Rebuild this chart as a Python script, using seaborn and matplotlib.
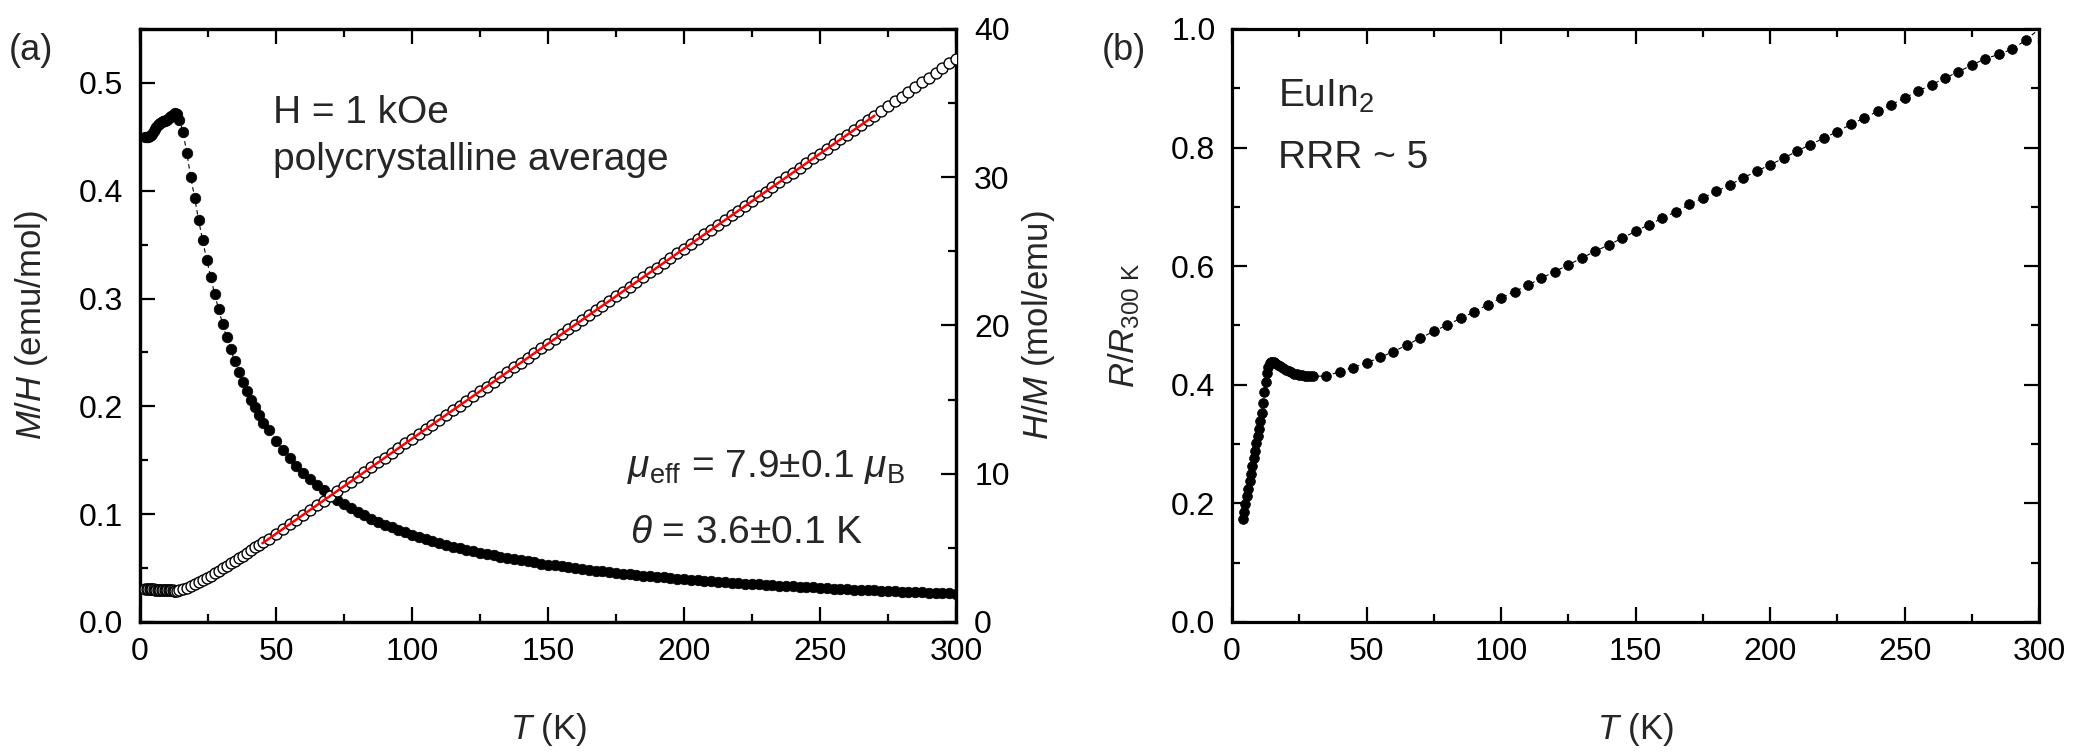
import matplotlib
matplotlib.use('Agg')
import matplotlib.pyplot as plt
import seaborn as sns
from matplotlib.ticker import MultipleLocator, FormatStrFormatter

# ---- panel (a): M/H (filled) and H/M (open) vs T ----
T_a = [2.0, 2.5, 3.0, 3.5, 4.0, 4.5, 5.0, 5.5, 6.0, 6.5, 7.0, 7.5, 8.0, 8.5,
       9.0, 9.5, 10.0, 10.5, 11.0, 11.5, 12.0, 12.5, 13.0, 13.5,
       14.5, 15.8, 17.2, 18.6, 20.1, 21.5, 23.0, 24.5, 26.0, 27.4, 28.9, 30.4,
       31.8, 33.3, 34.8, 36.3, 37.8, 39.3, 40.8, 42.3, 43.8, 45.3,
       47.5, 50, 52.5, 55, 57.5, 60, 62.5, 65, 67.5, 70, 72.5, 75, 77.5, 80,
       82.5, 85, 87.5, 90, 92.5, 95, 97.5, 100, 102.5, 105, 107.5, 110, 112.5,
       115, 117.5, 120, 122.5, 125, 127.5, 130, 132.5, 135, 137.5, 140, 142.5,
       145, 147.5, 150, 152.5, 155, 157.5, 160, 162.5, 165, 167.5, 170, 172.5,
       175, 177.5, 180, 182.5, 185, 187.5, 190, 192.5, 195, 197.5, 200, 202.5,
       205, 207.5, 210, 212.5, 215, 217.5, 220, 222.5, 225, 227.5, 230, 232.5,
       235, 237.5, 240, 242.5, 245, 247.5, 250, 252.5, 255, 257.5, 260, 262.5,
       265, 267.5, 270, 272.5, 275, 277.5, 280, 282.5, 285, 287.5, 290, 292.5,
       295, 297.5, 300]

MH = [0.450, 0.450, 0.450, 0.451, 0.452, 0.453, 0.455, 0.457, 0.459, 0.461,
      0.462, 0.463, 0.464, 0.465, 0.465, 0.466, 0.466, 0.467, 0.468, 0.469,
      0.470, 0.471, 0.472, 0.471,
      0.466, 0.454, 0.435, 0.413, 0.393, 0.373, 0.354, 0.336, 0.320, 0.304,
      0.290, 0.276, 0.264, 0.253, 0.242, 0.232, 0.223, 0.214, 0.206, 0.199,
      0.192, 0.185,
      0.1777, 0.1681, 0.1595, 0.1518, 0.1447, 0.1383, 0.1324, 0.1270, 0.1221,
      0.1175, 0.1132, 0.1092, 0.1055, 0.1021, 0.0989, 0.0958, 0.0930, 0.0903,
      0.0877, 0.0853, 0.0831, 0.0809, 0.0789, 0.0769, 0.0751, 0.0733, 0.0716,
      0.0700, 0.0685, 0.0670, 0.0656, 0.0643, 0.0630, 0.0617, 0.0605, 0.0594,
      0.0583, 0.0572, 0.0562, 0.0552, 0.0542, 0.0533, 0.0524, 0.0515, 0.0507,
      0.0499, 0.0491, 0.0483, 0.0476, 0.0469, 0.0462, 0.0455, 0.0449, 0.0442,
      0.0436, 0.0430, 0.0424, 0.0418, 0.0413, 0.0408, 0.0402, 0.0397, 0.0392,
      0.0387, 0.0383, 0.0378, 0.0373, 0.0369, 0.0365, 0.0360, 0.0356, 0.0352,
      0.0348, 0.0345, 0.0341, 0.0337, 0.0333, 0.0330, 0.0327, 0.0323, 0.0320,
      0.0317, 0.0313, 0.0310, 0.0307, 0.0304, 0.0301, 0.0298, 0.0296, 0.0293,
      0.0290, 0.0287, 0.0285, 0.0282, 0.0280, 0.0277, 0.0275, 0.0272, 0.0270,
      0.0268, 0.0265, 0.0263]

HM = [2.22, 2.22, 2.22, 2.22, 2.21, 2.21, 2.20, 2.19, 2.18, 2.17, 2.16, 2.16,
      2.16, 2.15, 2.15, 2.15, 2.15, 2.14, 2.14, 2.13, 2.13, 2.12, 2.12, 2.12,
      2.15, 2.20, 2.30, 2.42, 2.54, 2.68, 2.82, 2.98, 3.13, 3.29, 3.45, 3.62,
      3.79, 3.95, 4.13, 4.31, 4.48, 4.67, 4.85, 5.03, 5.21, 5.41,
      5.63, 5.95, 6.27, 6.59, 6.91, 7.23, 7.55, 7.87, 8.19, 8.51, 8.83, 9.15,
      9.47, 9.79, 10.12, 10.44, 10.76, 11.08, 11.40, 11.72, 12.04, 12.36,
      12.68, 13.00, 13.32, 13.64, 13.96, 14.28, 14.60, 14.92, 15.24, 15.56,
      15.88, 16.21, 16.53, 16.85, 17.17, 17.49, 17.81, 18.13, 18.45, 18.77,
      19.09, 19.41, 19.73, 20.05, 20.37, 20.69, 21.01, 21.33, 21.65, 21.97,
      22.29, 22.62, 22.94, 23.26, 23.58, 23.90, 24.22, 24.54, 24.86, 25.18,
      25.50, 25.82, 26.14, 26.46, 26.78, 27.10, 27.42, 27.74, 28.06, 28.38,
      28.71, 29.03, 29.35, 29.67, 29.99, 30.31, 30.63, 30.95, 31.27, 31.59,
      31.91, 32.23, 32.55, 32.87, 33.19, 33.51, 33.83, 34.15, 34.47, 34.79,
      35.12, 35.44, 35.76, 36.08, 36.40, 36.72, 37.04, 37.36, 37.68, 38.00]

# Curie-Weiss fit line (end points)
fit_T = [45, 270]
fit_HM = [5.31, 34.15]

# ---- panel (b): normalised resistance ----
T_b = [4.0, 4.5, 5.0, 5.5, 6.0, 6.5, 7.0, 7.5, 8.0, 8.5, 9.0, 9.5, 10.0, 10.5,
       11.0, 11.5, 12.0, 12.5, 13.0, 13.5, 14.0, 14.5, 15.0, 15.5, 16, 17, 18,
       19, 20, 21, 22, 23, 24, 25, 26, 27, 28, 29, 30,
       35, 40, 45, 50, 55, 60, 65, 70, 75, 80, 85, 90, 95, 100, 105, 110, 115,
       120, 125, 130, 135, 140, 145, 150, 155, 160, 165, 170, 175, 180, 185,
       190, 195, 200, 205, 210, 215, 220, 225, 230, 235, 240, 245, 250, 255,
       260, 265, 270, 275, 280, 285, 290, 295, 300]

R_b = [0.174, 0.186, 0.199, 0.212, 0.224, 0.237, 0.250, 0.263, 0.276, 0.288,
       0.301, 0.314, 0.326, 0.339, 0.352, 0.369, 0.387, 0.405, 0.420, 0.430,
       0.436, 0.439, 0.439, 0.438, 0.437, 0.434, 0.431, 0.428, 0.425, 0.423,
       0.421, 0.419, 0.418, 0.417, 0.416, 0.415, 0.415, 0.414, 0.414,
       0.415, 0.422, 0.429, 0.437, 0.446, 0.456, 0.467, 0.479, 0.490, 0.501,
       0.512, 0.523, 0.535, 0.546, 0.557, 0.568, 0.580, 0.591, 0.602, 0.614,
       0.625, 0.636, 0.647, 0.659, 0.670, 0.681, 0.692, 0.704, 0.715, 0.726,
       0.737, 0.749, 0.760, 0.771, 0.782, 0.794, 0.805, 0.816, 0.827, 0.839,
       0.850, 0.861, 0.872, 0.884, 0.895, 0.906, 0.917, 0.928, 0.939, 0.950,
       0.957, 0.966, 0.981, 1.000]

sns.set_style('ticks')
plt.rcParams['font.family'] = ['Liberation Sans', 'DejaVu Sans']
plt.rcParams['mathtext.fontset'] = 'custom'
plt.rcParams['mathtext.rm'] = 'Liberation Sans'
plt.rcParams['mathtext.it'] = 'Liberation Sans:italic'
plt.rcParams['mathtext.bf'] = 'Liberation Sans:bold'

TICK_FS = 23
LABEL_FS = 25
TEXT_FS = 28

fig = plt.figure(figsize=(20.78, 7.52), dpi=100)
ax1 = fig.add_axes([0.0674, 0.1729, 0.3927, 0.7886])
ax2 = ax1.twinx()
ax3 = fig.add_axes([0.5929, 0.1729, 0.3884, 0.7886])


def style_ticks(ax, axis, **kw):
    ax.tick_params(axis=axis, which='both', direction='in', width=1.6,
                   labelsize=TICK_FS, colors='black', **kw)
    ax.tick_params(axis=axis, which='major', length=11)
    ax.tick_params(axis=axis, which='minor', length=6)


for ax in (ax1, ax2, ax3):
    for sp in ax.spines.values():
        sp.set_linewidth(2.3)
        sp.set_color('black')
        sp.set_visible(True)

# panel (a)
sns.lineplot(x=T_a, y=MH, ax=ax1, color='black', lw=0.8,
             linestyle=(0, (4, 3)), sort=False, estimator=None)
sns.scatterplot(x=T_a, y=MH, ax=ax1, color='black', edgecolor='black',
                s=58, linewidth=0.5, zorder=3)
sns.scatterplot(x=T_a, y=HM, ax=ax2, color='white', edgecolor='black',
                s=62, linewidth=1.0, zorder=3)
sns.lineplot(x=fit_T, y=fit_HM, ax=ax2, color='red', lw=1.8, zorder=4)

ax1.set_xlim(0, 300)
ax1.set_ylim(0, 0.55)
ax2.set_ylim(0, 40)
ax1.xaxis.set_major_locator(MultipleLocator(50))
ax1.xaxis.set_minor_locator(MultipleLocator(25))
ax1.yaxis.set_major_locator(MultipleLocator(0.1))
ax1.yaxis.set_minor_locator(MultipleLocator(0.05))
ax1.yaxis.set_major_formatter(FormatStrFormatter('%.1f'))
ax2.yaxis.set_major_locator(MultipleLocator(10))
ax2.yaxis.set_minor_locator(MultipleLocator(5))
style_ticks(ax1, 'x', top=True, bottom=True, pad=11)
style_ticks(ax1, 'y', left=True, right=False, pad=12)
style_ticks(ax2, 'y', right=True, left=False, pad=13)

ax1.set_xlabel('$T$ (K)', fontsize=LABEL_FS)
ax1.set_ylabel('$M$/$H$ (emu/mol)', fontsize=LABEL_FS)
ax2.set_ylabel('$H$/$M$ (mol/emu)', fontsize=LABEL_FS)
ax1.xaxis.set_label_coords(0.5, -0.15)
ax1.yaxis.set_label_coords(-0.110, 0.5)
ax2.yaxis.set_label_coords(1.078, 0.5)

ax1.text(0.163, 0.8415, 'H = 1 kOe', transform=ax1.transAxes,
         fontsize=TEXT_FS, va='baseline')
ax1.text(0.163, 0.762, 'polycrystalline average', transform=ax1.transAxes,
         fontsize=TEXT_FS, va='baseline')
ax1.text(0.597, 0.245, r'$\mu_{\rm eff}$ = 7.9$\pm$0.1 $\mu_{\rm B}$',
         transform=ax1.transAxes, fontsize=TEXT_FS, va='baseline')
ax1.text(0.600, 0.133, r'$\theta$ = 3.6$\pm$0.1 K',
         transform=ax1.transAxes, fontsize=TEXT_FS, va='baseline')

# panel (b)
sns.lineplot(x=T_b, y=R_b, ax=ax3, color='black', lw=0.8,
             linestyle=(0, (4, 3)), sort=False, estimator=None)
sns.scatterplot(x=T_b[:-1], y=R_b[:-1], ax=ax3, color='black',
                edgecolor='black', s=50, linewidth=0.5, zorder=3)

ax3.set_xlim(0, 300)
ax3.set_ylim(0, 1.0)
ax3.xaxis.set_major_locator(MultipleLocator(50))
ax3.xaxis.set_minor_locator(MultipleLocator(25))
ax3.yaxis.set_major_locator(MultipleLocator(0.2))
ax3.yaxis.set_minor_locator(MultipleLocator(0.1))
ax3.yaxis.set_major_formatter(FormatStrFormatter('%.1f'))
style_ticks(ax3, 'x', top=True, bottom=True, pad=11)
style_ticks(ax3, 'y', left=True, right=True, pad=12)

ax3.set_xlabel('$T$ (K)', fontsize=LABEL_FS)
ax3.set_ylabel(r'$R$/$R_{\rm 300\ K}$', fontsize=LABEL_FS)
ax3.xaxis.set_label_coords(0.5, -0.15)
ax3.yaxis.set_label_coords(-0.112, 0.5)

ax3.text(0.057, 0.8685, r'EuIn$_2$', transform=ax3.transAxes,
         fontsize=TEXT_FS, va='baseline')
ax3.text(0.057, 0.7656, 'RRR ~ 5', transform=ax3.transAxes,
         fontsize=TEXT_FS, va='baseline')

fig.text(0.004, 0.9335, '(a)', fontsize=26, va='center', ha='left')
fig.text(0.530, 0.9335, '(b)', fontsize=26, va='center', ha='left')

fig.savefig('out.png', dpi=100)
